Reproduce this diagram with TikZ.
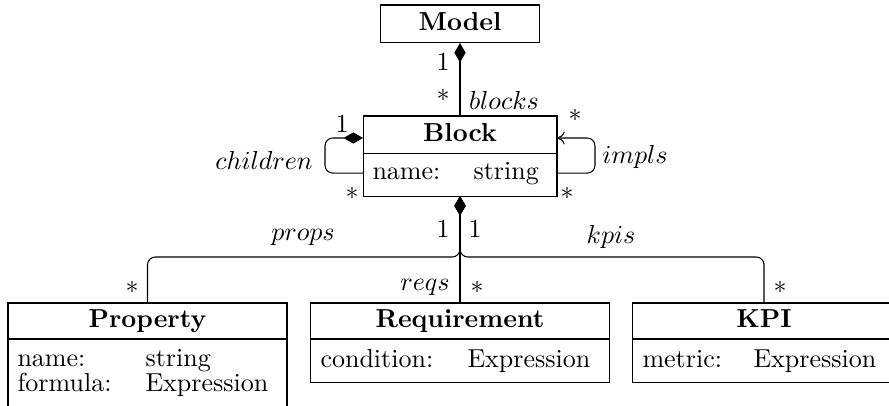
\documentclass[tikz,border=0pt]{standalone}
\usetikzlibrary{arrows.meta}
\begin{document}
\begin{tikzpicture}[x=0.3846pt,y=-0.3846pt,
  title/.style={draw, inner sep=0pt, outer sep=0pt, font=\bfseries, text height=6.9pt, text depth=1.9pt},
  attrbox/.style={draw, inner sep=0pt, outer sep=0pt, anchor=north},
  attr/.style={inner sep=0pt, anchor=base west},
  lbl/.style={inner sep=0pt},
  comp/.style={{Diamond[length=7.5pt,width=4.3pt]}-},
  nav/.style={-{To[length=3pt,width=5pt]}}]
\useasboundingbox (0,0) rectangle (889,406);
\begin{scope}
\clip (0,0) rectangle (889,406);
% classes
\node[title, minimum width=61.2pt, minimum height=14.6pt] (model) at (460,24) {Model};
\node[title, minimum width=74.6pt, minimum height=14.6pt] (blockT) at (460,135) {Block};
\node[attrbox, minimum width=74.6pt, minimum height=16.2pt] (blockA) at (blockT.south) {};
\node[title, minimum width=107.3pt, minimum height=13.85pt] (propT) at (147.5,321) {Property};
\node[attrbox, minimum width=107.3pt, minimum height=32pt] (propA) at (propT.south) {};
\node[title, minimum width=115pt, minimum height=13.85pt] (reqT) at (460,321) {Requirement};
\node[attrbox, minimum width=115pt, minimum height=16.9pt] (reqA) at (reqT.south) {};
\node[title, minimum width=101.5pt, minimum height=13.85pt] (kpiT) at (764,321) {KPI};
\node[attrbox, minimum width=101.5pt, minimum height=16.9pt] (kpiA) at (kpiT.south) {};
% attributes
\node[attr] (bn) at (372,180) {name:};
\node[attr] (bt) at (473,180) {string};
\node[attr] (pn) at (17,367) {name:};
\node[attr] (pt) at (145,367) {string};
\node[attr] (pf) at (17,392) {formula:};
\node[attr] (pe) at (145,392) {Expression};
\node[attr] (rc) at (320,368) {condition:};
\node[attr] (re) at (467,368) {Expression};
\node[attr] (km) at (642,368) {metric:};
\node[attr] (ke) at (753,368) {Expression};
\end{scope}
% connectors
\draw[comp] (model.south) -- (blockT.north);
\draw[comp, rounded corners=3pt] ([yshift=-1.15pt]blockT.west) -- ++(-38,0) |- ([yshift=0.75pt]blockA.west);
\draw[nav, rounded corners=3pt] ([yshift=0.75pt]blockA.east) -- ++(38,0) |- ([yshift=-1.15pt]blockT.east);
\coordinate (pj) at (propT.north |- 0,257);
\coordinate (kj) at (kpiT.north |- 0,257);
\draw[comp] (blockA.south) -- (blockA.south |- reqT.north);
\draw[comp, rounded corners=3pt] (blockA.south) |- (pj) -- (propT.north);
\draw[comp, rounded corners=3pt] (blockA.south) |- (kj) -- (kpiT.north);
% labels
\node[lbl] (m1) at (443,62) {1};
\node[lbl] (m2) at (443,95) {$*$};
\node[lbl] (lblocks) at (504,100) {$blocks$};
\node[lbl] (c1) at (342,124) {1};
\node[lbl] (c2) at (352,193) {$*$};
\node[lbl] (lchildren) at (264,160) {$children$};
\node[lbl] (i1) at (575,115) {$*$};
\node[lbl] (i2) at (567,193) {$*$};
\node[lbl] (limpls) at (635,157) {$impls$};
\node[lbl] (b1) at (443,229) {1};
\node[lbl] (b2) at (475,229) {1};
\node[lbl] (lprops) at (303,237) {$props$};
\node[lbl] (lkpis) at (611,237) {$kpis$};
\node[lbl] (lreqs) at (425,287) {$reqs$};
\node[lbl] (r2) at (477,287) {$*$};
\node[lbl] (p2) at (132,287) {$*$};
\node[lbl] (k2) at (780,287) {$*$};
\end{tikzpicture}
\end{document}
